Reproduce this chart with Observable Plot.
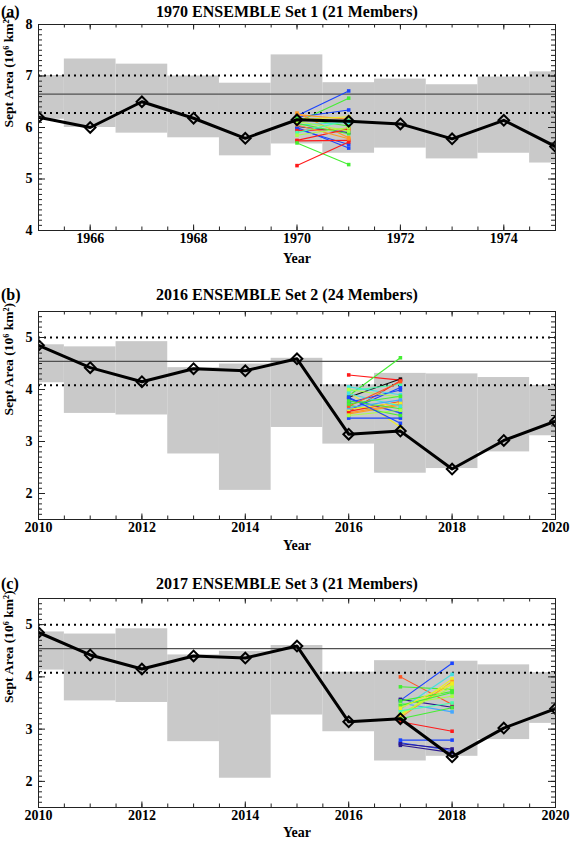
<!DOCTYPE html>
<html><head><meta charset="utf-8">
<script src="https://cdn.jsdelivr.net/npm/d3@7"></script>
<script src="https://cdn.jsdelivr.net/npm/@observablehq/plot@0.6"></script>
<style>
body{margin:0;background:#fff;}
#wrap{position:relative;width:570px;height:842px;font-family:"Liberation Serif","Times New Roman",serif;font-weight:bold;color:#000;}
.panel{position:absolute;left:0;width:570px;}
.title{position:absolute;left:0;width:574px;text-align:center;font-size:16px;line-height:20px;}
.tag{position:absolute;left:1px;font-size:16px;line-height:20px;}
</style></head><body><div id="wrap"></div>
<script>
// ---------- Panel (a) data: 1970 ensemble ----------
const yearsA = [1965,1966,1967,1968,1969,1970,1971,1972,1973,1974,1975];
const obsA = [6.20,6.00,6.50,6.18,5.79,6.15,6.12,6.07,5.78,6.14,5.63];
const bandHighA = [7.01,7.33,7.23,7.00,6.86,7.41,6.87,6.94,6.83,6.98,7.08];
const bandLowA = [6.16,6.00,5.89,5.80,5.45,5.68,5.50,5.60,5.39,5.50,5.31];
const meanA = [6.65];
const sdLinesA = [7.01,6.28];
const ensYearA = 1970;
const ensStartA = [6.23,6.10,6.20,6.28,6.25,6.15,6.18,6.05,6.02,6.00,5.97,5.94,6.08,5.75,5.74,5.70,5.26,6.12,5.90,6.05,5.85];
const ensEndA   = [6.71,6.57,6.34,5.80,6.16,6.21,6.03,6.10,5.90,5.60,5.67,5.97,5.88,5.97,5.75,5.28,5.72,5.93,6.14,5.78,6.00];

// ---------- Panels (b),(c) observed data 2010-2020 ----------
const yearsB = [2010,2011,2012,2013,2014,2015,2016,2017,2018,2019,2020];
const obsB = [4.85,4.42,4.15,4.40,4.36,4.59,3.14,3.20,2.47,3.02,3.39];
const bandHighB = [4.86,4.82,4.92,4.42,4.49,4.60,4.09,4.31,4.30,4.23,4.08];
const bandLowB = [4.13,3.54,3.51,2.76,2.06,3.27,2.95,2.39,2.48,2.80,3.11];
const meanB = [4.54];
const sdLinesB = [5.00,4.08];

// ---------- Panel (b) ensemble: 2016 (24 members) ----------
const ensYearB = 2016;
const ensStartB = [4.28,3.88,3.85,3.57,3.95,3.45,3.60,3.75,4.05,3.97,3.82,3.70,3.55,3.53,3.58,3.62,3.78,4.00,3.92,3.65,3.50,3.85,3.68,3.72];
const ensEndB   = [4.18,4.61,4.20,4.17,3.28,3.45,4.04,3.99,3.90,4.10,3.55,3.50,3.72,3.70,3.77,3.75,3.63,3.85,3.68,3.80,3.60,3.35,4.15,3.87];

// ---------- Panel (c) ensemble: 2017 (21 members) ----------
const ensYearC = 2017;
const ensStartC = [4.00,3.81,3.55,3.57,3.50,3.14,2.79,2.74,2.69,3.25,3.28,3.22,3.20,3.38,3.47,3.54,3.30,3.45,3.35,2.72,3.40];
const ensEndC   = [3.47,3.76,4.26,3.42,3.33,2.96,2.79,2.59,2.55,3.96,3.86,3.91,3.41,4.05,3.63,3.72,3.80,3.70,3.50,2.62,3.88];

// ---------- styles (member colours, rainbow table) ----------
const NAVY="#2a1890",BLUE="#1a44ff",LBLUE="#44a8ff",CYAN="#44e0e0",TEAL="#44ffaa",GREEN="#44ee33",LGREEN="#aaff44",YEL="#eeee22",ORNG="#ff9922",OR="#ff5522",RED="#ff1a1a";
const ensColorA = [BLUE,GREEN,BLUE,ORNG,ORNG,YEL,GREEN,CYAN,NAVY,BLUE,BLUE,RED,GREEN,RED,RED,GREEN,RED,LGREEN,TEAL,ORNG,LGREEN];
const ensColorB = [RED,GREEN,"#111",RED,YEL,BLUE,BLUE,BLUE,CYAN,TEAL,BLUE,GREEN,ORNG,ORNG,RED,YEL,GREEN,LGREEN,CYAN,LBLUE,LGREEN,BLUE,OR,GREEN];
const ensColorC = [OR,GREEN,BLUE,NAVY,LBLUE,RED,BLUE,BLUE,NAVY,YEL,YEL,ORNG,GREEN,CYAN,LGREEN,GREEN,LGREEN,GREEN,TEAL,NAVY,YEL];

function panel(o) {
  const W = 570, ml = 38, mr = 15;
  const innerH = o.height - o.mt - o.mb, innerW = W - ml - mr;
  const x0 = o.years[0], x1 = o.years[o.years.length-1];
  const xMinor = d3.range(x0, x1 + 0.001, 0.5);
  const xMajor = o.xMajor;
  const yMinor = d3.range(Math.round(o.yDomain[0]*10), Math.round(o.yDomain[1]*10)+1).map(d => d/10);
  const yMajor = o.yMajor;
  const boxes = o.years.map((y,i) => ({x1: y-0.5, x2: y+0.5, y1: o.lo[i], y2: o.hi[i]}));
  const obsData = o.years.map((y,i) => ({x: y, y: o.obs[i]}));
  const ens = o.ensStart.map((s,i) => ({x1: o.ensYear, x2: o.ensYear+1, y1: s, y2: o.ensEnd[i], c: o.ensColor[i]}));
  const ensPts = ens.flatMap(d => [{x: d.x1, y: d.y1, c: d.c}, {x: d.x2, y: d.y2, c: d.c}]);
  const tk = "#222";
  return Plot.plot({
    width: W, height: o.height,
    marginTop: o.mt, marginBottom: o.mb, marginLeft: ml, marginRight: mr,
    x: {domain: [x0, x1]},
    y: {domain: o.yDomain},
    color: {type: "identity"},
    style: {fontFamily: '"Liberation Serif","Times New Roman",serif', fontWeight: "bold", fontSize: "14px", background: "white", color: "black", overflow: "visible"},
    marks: [
      Plot.rect(boxes, {x1: "x1", x2: "x2", y1: "y1", y2: "y2", fill: "#c9c9c9", clip: true}),
      Plot.ruleY(o.mean, {stroke: "#505050", strokeWidth: 1.3}),
      Plot.ruleY(o.sd, {stroke: "black", strokeWidth: 2, strokeDasharray: "2,4"}),
      Plot.link(ens, {x1: "x1", y1: "y1", x2: "x2", y2: "y2", stroke: "c", strokeWidth: 1.1}),
      Plot.dot(ensPts, {x: "x", y: "y", symbol: "square", r: 2, fill: "c"}),
      Plot.line(obsData, {x: "x", y: "y", stroke: "black", strokeWidth: 3, clip: true}),
      Plot.dot(obsData, {x: "x", y: "y", symbol: "diamond2", r: 4.8, stroke: "black", strokeWidth: 2, clip: true}),
      // inward ticks on all four sides
      Plot.tickX(xMinor, {x: d => d, insetTop: innerH - 3.5, stroke: tk}),
      Plot.tickX(xMinor, {x: d => d, insetBottom: innerH - 3.5, stroke: tk}),
      Plot.tickX(xMajor, {x: d => d, insetTop: innerH - 5.5, stroke: tk}),
      Plot.tickX(xMajor, {x: d => d, insetBottom: innerH - 5.5, stroke: tk}),
      Plot.tickY(yMinor, {y: d => d, insetRight: innerW - 4, stroke: tk}),
      Plot.tickY(yMinor, {y: d => d, insetLeft: innerW - 4, stroke: tk}),
      Plot.tickY(yMajor, {y: d => d, insetRight: innerW - 7, stroke: tk}),
      Plot.tickY(yMajor, {y: d => d, insetLeft: innerW - 7, stroke: tk}),
      Plot.frame({stroke: tk}),
      Plot.axisX({ticks: xMajor, tickSize: 0, tickPadding: 3, tickFormat: d => String(d), label: null, fontSize: 14}),
      Plot.axisY({ticks: yMajor, tickSize: 0, tickPadding: 6, tickFormat: d => String(d), label: null, fontSize: 14}),
      Plot.text(["Year"], {frameAnchor: "bottom", dy: o.yearDy, fontSize: 14}),
      Plot.text(["Sept Area (10⁶ km²)"], {frameAnchor: "left", dx: -30, rotate: -90, fontSize: 13.5})
    ]
  });
}

const wrap = document.getElementById("wrap");
function addPanel(top, tag, title, titleTop, cfg) {
  const div = document.createElement("div");
  div.className = "panel";
  div.style.top = top + "px";
  div.appendChild(panel(cfg));
  wrap.appendChild(div);
  const t = document.createElement("div");
  t.className = "title"; t.style.top = titleTop + "px"; t.textContent = title;
  wrap.appendChild(t);
  const g = document.createElement("div");
  g.className = "tag"; g.style.top = titleTop + "px"; g.textContent = tag;
  wrap.appendChild(g);
}

addPanel(0, "(a)", "1970 ENSEMBLE Set 1 (21 Members)", 2, {
  height: 280, mt: 24, mb: 50, years: yearsA, obs: obsA, hi: bandHighA, lo: bandLowA, yearDy: 32,
  mean: meanA, sd: sdLinesA, yDomain: [4, 8], yMajor: [4,5,6,7,8], xMajor: [1966,1968,1970,1972,1974],
  ensYear: ensYearA, ensStart: ensStartA, ensEnd: ensEndA, ensColor: ensColorA
});
addPanel(280, "(b)", "2016 ENSEMBLE Set 2 (24 Members)", 285, {
  height: 280, mt: 31, mb: 41, years: yearsB, obs: obsB, hi: bandHighB, lo: bandLowB, yearDy: 30,
  mean: meanB, sd: sdLinesB, yDomain: [1.5, 5.5], yMajor: [2,3,4,5], xMajor: [2010,2012,2014,2016,2018,2020],
  ensYear: ensYearB, ensStart: ensStartB, ensEnd: ensEndB, ensColor: ensColorB
});
addPanel(560, "(c)", "2017 ENSEMBLE Set 3 (21 Members)", 574, {
  height: 282, mt: 38, mb: 35, years: yearsB, obs: obsB, hi: bandHighB, lo: bandLowB, yearDy: 29,
  mean: meanB, sd: sdLinesB, yDomain: [1.5, 5.5], yMajor: [2,3,4,5], xMajor: [2010,2012,2014,2016,2018,2020],
  ensYear: ensYearC, ensStart: ensStartC, ensEnd: ensEndC, ensColor: ensColorC
});
</script>
</body></html>
